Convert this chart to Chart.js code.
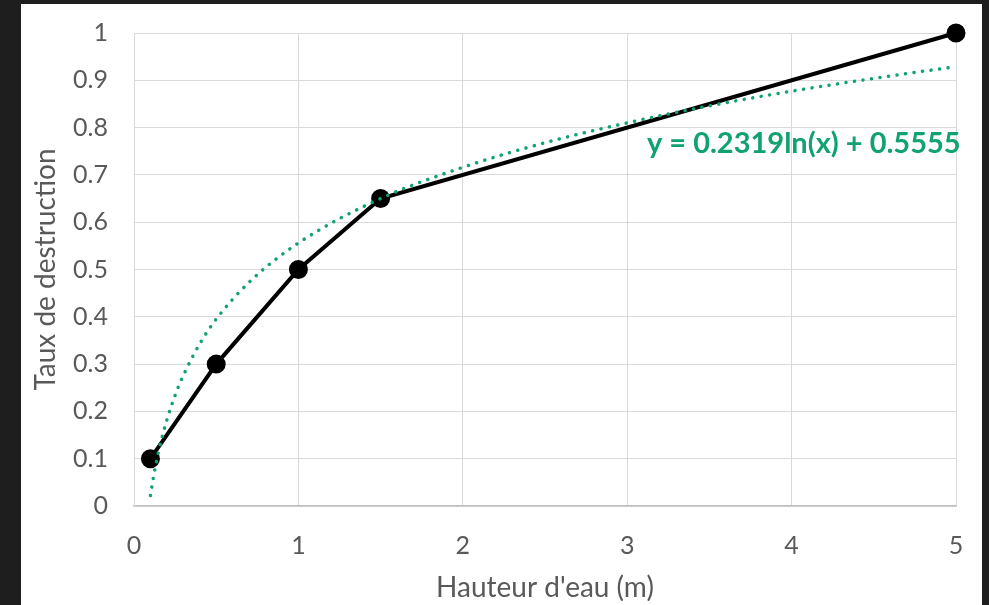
<!DOCTYPE html>
<html>
<head>
<meta charset="utf-8">
<script src="https://cdn.jsdelivr.net/npm/chart.js@4"></script>
<style>
    html, body { margin: 0; padding: 0; background: #1e1e1e; }
    #frame {
        position: absolute; left: 21px; top: 4px;
        width: 961px; height: 601px; background: #fff;
    }
</style>
</head>
<body>
<div id="frame"><canvas id="chart" width="961" height="601"></canvas></div>
<script>
// measured points
const hauteur = [0.1, 0.5, 1, 1.5, 5];
const taux = [0.1, 0.3, 0.5, 0.65, 1];

// trendline (dotted green curve)
const trendX = [0.1, 0.12, 0.15, 0.2, 0.25, 0.3, 0.4, 0.5, 0.7, 1, 1.5, 2, 2.5, 3, 3.5, 4, 4.5, 5];
const trendY = [0.022, 0.064, 0.116, 0.182, 0.234, 0.276, 0.343, 0.395, 0.473, 0.556, 0.650, 0.716, 0.768, 0.810, 0.846, 0.877, 0.904, 0.929];

const equation = 'y = 0.2319ln(x) + 0.5555';
const xTitle = "Hauteur d'eau (m)";
const yTitle = 'Taux de destruction';

const GREEN = '#10a26f';
const GRID = '#d9d9d9';
const TEXT = '#595959';
const FONT = 'Lato, "Open Sans", sans-serif';

const pts = (xs, ys) => xs.map((x, i) => ({ x, y: ys[i] }));

// equation label, anchored in data space
const eqLabel = {
    id: 'eqLabel',
    afterDatasetsDraw(chart) {
        const { ctx, scales: { x, y } } = chart;
        ctx.save();
        ctx.font = `bold 29px ${FONT}`;
        ctx.fillStyle = GREEN;
        ctx.textBaseline = 'alphabetic';
        ctx.fillText(equation, x.getPixelForValue(3.12), y.getPixelForValue(0.746));
        ctx.restore();
    }
};

new Chart(document.getElementById('chart'), {
    type: 'line',
    data: {
        datasets: [
            {
                label: 'Tendance',
                data: pts(trendX, trendY),
                borderColor: GREEN,
                borderWidth: 3.5,
                borderDash: [0.1, 8.5],
                borderCapStyle: 'round',
                pointRadius: 0,
                cubicInterpolationMode: 'monotone',
                order: 0
            },
            {
                label: 'Taux',
                data: pts(hauteur, taux),
                borderColor: '#000',
                borderWidth: 4,
                pointRadius: 7.5,
                pointBackgroundColor: '#000',
                pointBorderColor: '#000',
                tension: 0,
                clip: false,
                order: 1
            }
        ]
    },
    options: {
        responsive: false,
        animation: false,
        layout: { padding: { left: 0, top: 29, right: 26, bottom: 0 } },
        plugins: { legend: { display: false }, tooltip: { enabled: false } },
        scales: {
            x: {
                type: 'linear', min: 0, max: 5,
                afterFit: s => { s.height = 99; s.paddingLeft = 0; s.paddingRight = 0; },
                grid: { color: GRID, drawTicks: false },
                border: { color: '#bfbfbf', width: 1.5 },
                ticks: { stepSize: 1, padding: 25, color: TEXT, font: { family: FONT, size: 25 } },
                title: { display: true, text: xTitle, color: TEXT, font: { family: FONT, size: 28 }, padding: { top: 0, bottom: 0 } }
            },
            y: {
                min: 0, max: 1,
                afterFit: s => { s.width = 113; s.paddingTop = 0; s.paddingBottom = 0; },
                grid: { color: GRID, drawTicks: false },
                border: { color: GRID },
                ticks: {
                    stepSize: 0.1, padding: 26, color: TEXT, font: { family: FONT, size: 25 },
                    callback: v => String(Math.round(v * 10) / 10)
                },
                title: { display: true, text: yTitle, color: TEXT, font: { family: FONT, size: 28 }, padding: { top: 8, bottom: 0 } }
            }
        }
    },
    plugins: [eqLabel]
});
</script>
</body>
</html>
